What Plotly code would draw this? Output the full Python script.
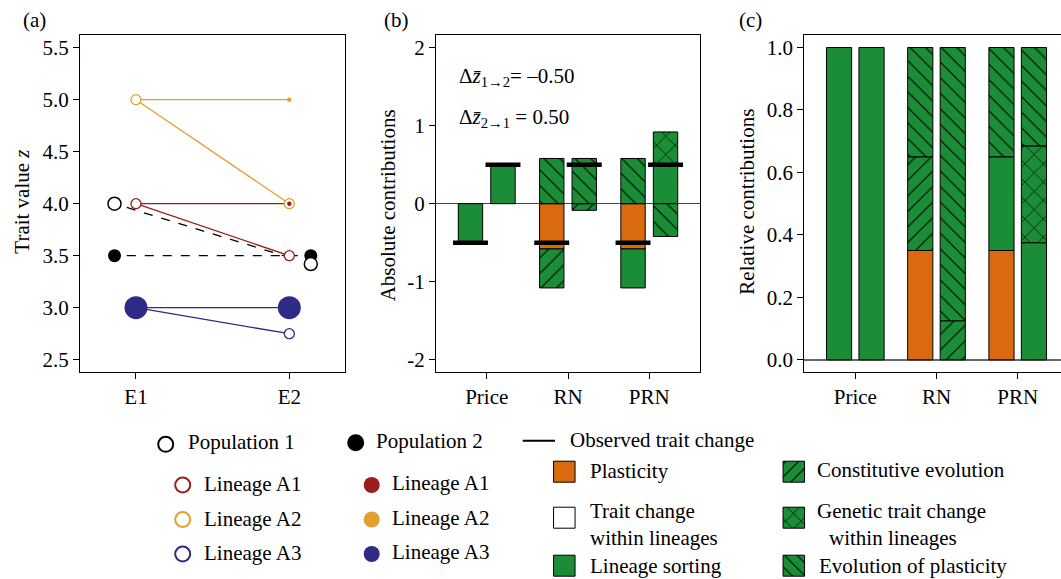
import plotly.graph_objects as go

W, H = 1061, 579
FONT = "Liberation Serif, Times New Roman, serif"
FS = 21

# ---------------- data ----------------
# Panel (a): trait values of lineages in two environments
env_labels = ["E1", "E2"]
lineage_names = ["Lineage A1", "Lineage A2", "Lineage A3"]
pop1_E1 = [4.0, 5.0, 3.0]
pop1_E2 = [3.5, 4.0, 2.75]
pop2_E1 = [4.0, 5.0, 3.0]
pop2_E2 = [4.0, 5.0, 3.0]
pop1_mean = [4.0, 3.42]   # E1, E2
pop2_mean = [3.5, 3.5]    # E1, E2

# Panels (b) and (c): contributions, bars ordered Price 1->2, Price 2->1, RN 1->2, RN 2->1, PRN 1->2, PRN 2->1
methods = ["Price", "RN", "PRN"]
observed_change = [-0.50, 0.50]   # 1->2, 2->1

plasticity_abs   = [0.0, 0.0, -0.58, 0.0, -0.58, 0.0]
sorting_abs      = [-0.50, 0.50, 0.0, 0.0, -0.50, 0.50]
constitutive_abs = [0.0, 0.0, -0.50, -0.085, 0.0, 0.0]
genetic_abs      = [0.0, 0.0, 0.0, 0.0, 0.0, 0.42]
evo_plast_abs    = [0.0, 0.0, 0.58, 0.58, 0.58, -0.42]

plasticity_rel   = [0.0, 0.0, 0.35, 0.0, 0.35, 0.0]
sorting_rel      = [1.0, 1.0, 0.0, 0.0, 0.30, 0.375]
constitutive_rel = [0.0, 0.0, 0.30, 0.125, 0.0, 0.0]
genetic_rel      = [0.0, 0.0, 0.0, 0.0, 0.0, 0.31]
evo_plast_rel    = [0.0, 0.0, 0.35, 0.875, 0.35, 0.315]

# ---------------- styles ----------------
C_LIN = ["#9b1e1e", "#e2a02e", "#2f2a86"]
GREEN = "#1b8d37"
ORANGE = "#d96a10"

components = [
    ("Plasticity", plasticity_abs, plasticity_rel, ORANGE, "", 0),
    ("Lineage sorting", sorting_abs, sorting_rel, GREEN, "", 0),
    ("Constitutive evolution", constitutive_abs, constitutive_rel, GREEN, "/", 11),
    ("Genetic trait change", genetic_abs, genetic_rel, GREEN, "x", 13),
    ("Evolution of plasticity", evo_plast_abs, evo_plast_rel, GREEN, "\\", 11),
]

def fx(px):
    return px / W

def fy(py):
    return 1 - py / H

fig = go.Figure()

# ---------------- panel (a) ----------------
xE = [1, 2]
for i in range(3):
    fig.add_trace(go.Scatter(x=xE, y=[pop2_E1[i], pop2_E2[i]], mode="lines",
                             line=dict(color=C_LIN[i], width=1.3), xaxis="x", yaxis="y",
                             showlegend=False, hoverinfo="skip"))
    fig.add_trace(go.Scatter(x=xE, y=[pop1_E1[i], pop1_E2[i]], mode="lines",
                             line=dict(color=C_LIN[i], width=1.3), xaxis="x", yaxis="y",
                             showlegend=False, hoverinfo="skip"))

# dashed population mean lines (shortened between offset markers)
xm = [0.86, 2.14]
def shorten(ys, a=0.94, b=2.06):
    y0, y1 = ys
    s = (y1 - y0) / (xm[1] - xm[0])
    return [a, b], [y0 + s * (a - xm[0]), y0 + s * (b - xm[0])]

for ys in (pop1_mean, pop2_mean):
    xx, yy = shorten(ys)
    fig.add_trace(go.Scatter(x=xx, y=yy, mode="lines",
                             line=dict(color="black", width=1.3, dash="dash"),
                             xaxis="x", yaxis="y", showlegend=False, hoverinfo="skip"))

# population 1 lineage open circles
fig.add_trace(go.Scatter(x=[1, 1, 1, 2, 2, 2], y=pop1_E1 + pop1_E2, mode="markers",
                         marker=dict(size=10, color="white", opacity=1,
                                     line=dict(color=C_LIN * 2, width=1.3)),
                         xaxis="x", yaxis="y", showlegend=False, hoverinfo="skip"))
# population 2 lineage filled circles (size ~ frequency)
pop2_size_E1 = [0, 0, 23]
pop2_size_E2 = [4.5, 4.5, 23]
fig.add_trace(go.Scatter(x=[1, 1, 1, 2, 2, 2], y=pop2_E1 + pop2_E2, mode="markers",
                         marker=dict(size=pop2_size_E1 + pop2_size_E2, color=C_LIN * 2,
                                     opacity=1, line=dict(width=0)),
                         xaxis="x", yaxis="y", showlegend=False, hoverinfo="skip"))
# population means
fig.add_trace(go.Scatter(x=xm, y=pop2_mean, mode="markers",
                         marker=dict(size=13, color="black", opacity=1, line=dict(width=0)),
                         xaxis="x", yaxis="y", showlegend=False, hoverinfo="skip"))
fig.add_trace(go.Scatter(x=xm, y=pop1_mean, mode="markers",
                         marker=dict(size=13, color="white", opacity=1,
                                     line=dict(color="black", width=1.5)),
                         xaxis="x", yaxis="y", showlegend=False, hoverinfo="skip"))

# ---------------- panels (b) and (c) ----------------
OFF = 0.2
bar_x = [m + (-OFF if d == 0 else OFF) for m in (1, 2, 3) for d in (0, 1)]

def add_stacked(xa, ya, width, rel):
    pos = [0.0] * 6
    neg = [0.0] * 6
    for name, absv, relv, col, shape, psize in components:
        vals = relv if rel else absv
        xs, bs, ys = [], [], []
        for k, v in enumerate(vals):
            if v == 0:
                continue
            if v > 0:
                xs.append(bar_x[k]); bs.append(pos[k]); ys.append(v); pos[k] += v
            else:
                xs.append(bar_x[k]); bs.append(neg[k]); ys.append(v); neg[k] += v
        if not xs:
            continue
        marker = dict(color=col, line=dict(color="black", width=1))
        if shape:
            marker["pattern"] = dict(shape=shape, fgcolor="black", fgopacity=1,
                                     size=psize, solidity=0.1, fillmode="overlay")
        fig.add_trace(go.Bar(x=xs, y=ys, base=bs, width=width, marker=marker,
                             xaxis=xa, yaxis=ya, showlegend=False, hoverinfo="skip"))

add_stacked("x2", "y2", 0.30, rel=False)
add_stacked("x3", "y3", 0.31, rel=True)

# observed trait change bars in panel (b)
ox, oy = [], []
for k, xc in enumerate(bar_x):
    v = observed_change[k % 2]
    ox += [xc - 0.215, xc + 0.215, None]
    oy += [v, v, None]
fig.add_trace(go.Scatter(x=ox, y=oy, mode="lines", line=dict(color="black", width=4.5),
                         xaxis="x2", yaxis="y2", showlegend=False, hoverinfo="skip"))

# ---------------- legend (pixel coordinate overlay) ----------------
LX, LY = "x4", "y4"
fig.add_trace(go.Scatter(x=[165.7], y=[444.3], mode="markers",
                         marker=dict(size=15, color="white", line=dict(color="black", width=2)),
                         xaxis=LX, yaxis=LY, showlegend=False, hoverinfo="skip"))
fig.add_trace(go.Scatter(x=[355.7], y=[442.7], mode="markers",
                         marker=dict(size=17, color="black", line=dict(width=0)),
                         xaxis=LX, yaxis=LY, showlegend=False, hoverinfo="skip"))
leg_rows = [485.0, 519.5, 554.0]
fig.add_trace(go.Scatter(x=[182.7] * 3, y=leg_rows, mode="markers",
                         marker=dict(size=15, color="white", opacity=1,
                                     line=dict(color=C_LIN, width=2)),
                         xaxis=LX, yaxis=LY, showlegend=False, hoverinfo="skip"))
fig.add_trace(go.Scatter(x=[371.7] * 3, y=leg_rows, mode="markers",
                         marker=dict(size=16, color=C_LIN, opacity=1, line=dict(width=0)),
                         xaxis=LX, yaxis=LY, showlegend=False, hoverinfo="skip"))
fig.add_trace(go.Scatter(x=[522.7, 555], y=[440.7, 440.7], mode="lines",
                         line=dict(color="black", width=2),
                         xaxis=LX, yaxis=LY, showlegend=False, hoverinfo="skip"))

sq_left = [(471.7, ORANGE, "", 0), (517.7, "white", "", 0), (565.7, GREEN, "", 0)]
sq_right = [(471.7, GREEN, "/", 9), (517.7, GREEN, "x", 11), (565.7, GREEN, "\\", 9)]
for col_x, items in ((564.3, sq_left), (793.8, sq_right)):
    for yc, colr, shape, psize in items:
        marker = dict(color=colr, line=dict(color="black", width=1))
        if shape:
            marker["pattern"] = dict(shape=shape, fgcolor="black", fgopacity=1,
                                     size=psize, solidity=0.12, fillmode="overlay")
        fig.add_trace(go.Bar(x=[col_x], y=[21], base=[yc - 10.5], width=21.5, marker=marker,
                             xaxis=LX, yaxis=LY, showlegend=False, hoverinfo="skip"))

ann = []
def txt(x, y, s, xanchor="left", angle=0, size=FS):
    ann.append(dict(x=x, y=y, xref="x4", yref="y4", text=s, showarrow=False,
                    xanchor=xanchor, yanchor="middle", textangle=angle,
                    font=dict(family=FONT, size=size, color="black")))

txt(186, 442, "Population 1")
txt(374, 441, "Population 2")
for yv, nm in zip(leg_rows, lineage_names):
    txt(201.7, yv - 1, nm)
    txt(390, yv - 2, nm)
txt(567.7, 440, "Observed trait change")
txt(587.7, 471, "Plasticity")
txt(587.7, 510.7, "Trait change")
txt(587.7, 538.3, "within lineages")
txt(587.7, 566, "Lineage sorting")
txt(815, 470, "Constitutive evolution")
txt(815, 510.7, "Genetic trait change")
txt(826.7, 538.3, "within lineages")
txt(816.7, 566, "Evolution of plasticity")

# panel labels and axis titles
txt(34, 20, "(a)", xanchor="center")
txt(396, 20, "(b)", xanchor="center")
txt(750.5, 20, "(c)", xanchor="center")
txt(21.7, 202, "Trait value <i>z</i>", xanchor="center", angle=-90)
txt(388.3, 205, "Absolute contributions", xanchor="center", angle=-90)
txt(746.7, 202, "Relative contributions", xanchor="center", angle=-90)
txt(456.5, 77, "Δ<i>z̄</i><sub>1<b>→</b>2</sub>= –0.50")
txt(456.5, 118, "Δ<i>z̄</i><sub>2<b>→</b>1</sub> = 0.50")

# ---------------- axes ----------------
ydom = [fy(372), fy(35)]
common = dict(showgrid=False, zeroline=False, showline=True, mirror=True, linecolor="black",
              linewidth=1, ticks="outside", ticklen=6, tickwidth=1, tickcolor="black",
              tickfont=dict(family=FONT, size=FS, color="black"))

fig.update_layout(
    width=W, height=H, margin=dict(l=0, r=0, t=0, b=0),
    paper_bgcolor="white", plot_bgcolor="rgba(0,0,0,0)",
    barmode="overlay", showlegend=False, annotations=ann,
    xaxis=dict(domain=[fx(80), fx(345)], range=[0.635, 2.363], tickvals=[1, 2],
               ticktext=env_labels, anchor="y", **common),
    yaxis=dict(domain=ydom, range=[2.382, 5.622], tickvals=[2.5, 3.0, 3.5, 4.0, 4.5, 5.0, 5.5],
               tickformat=".1f", anchor="x", **common),
    xaxis2=dict(domain=[fx(436), fx(700)], range=[0.376, 3.624], tickvals=[1, 2, 3],
                ticktext=methods, anchor="y2", **common),
    yaxis2=dict(domain=ydom, range=[-2.158, 2.163], tickvals=[-2, -1, 0, 1, 2],
                ticktext=["-2", "-1", "0", "1", "2"], anchor="x2", **common),
    xaxis3=dict(domain=[fx(804.3), 1.0], range=[0.372, 3.533], tickvals=[1, 2, 3],
                ticktext=methods, anchor="y3", **common),
    yaxis3=dict(domain=ydom, range=[-0.039, 1.04], tickvals=[0, 0.2, 0.4, 0.6, 0.8, 1.0],
                tickformat=".1f", anchor="x3", **common),
    xaxis4=dict(domain=[0, 1], range=[0, W], visible=False, anchor="y4"),
    yaxis4=dict(domain=[0, 1], range=[H, 0], visible=False, anchor="x4"),
)
fig.update_yaxes(zeroline=True, zerolinecolor="#444", zerolinewidth=1, selector=dict(anchor="x2"))
fig.update_yaxes(zeroline=True, zerolinecolor="#666", zerolinewidth=1.5, selector=dict(anchor="x3"))

fig.write_html("out.html")
